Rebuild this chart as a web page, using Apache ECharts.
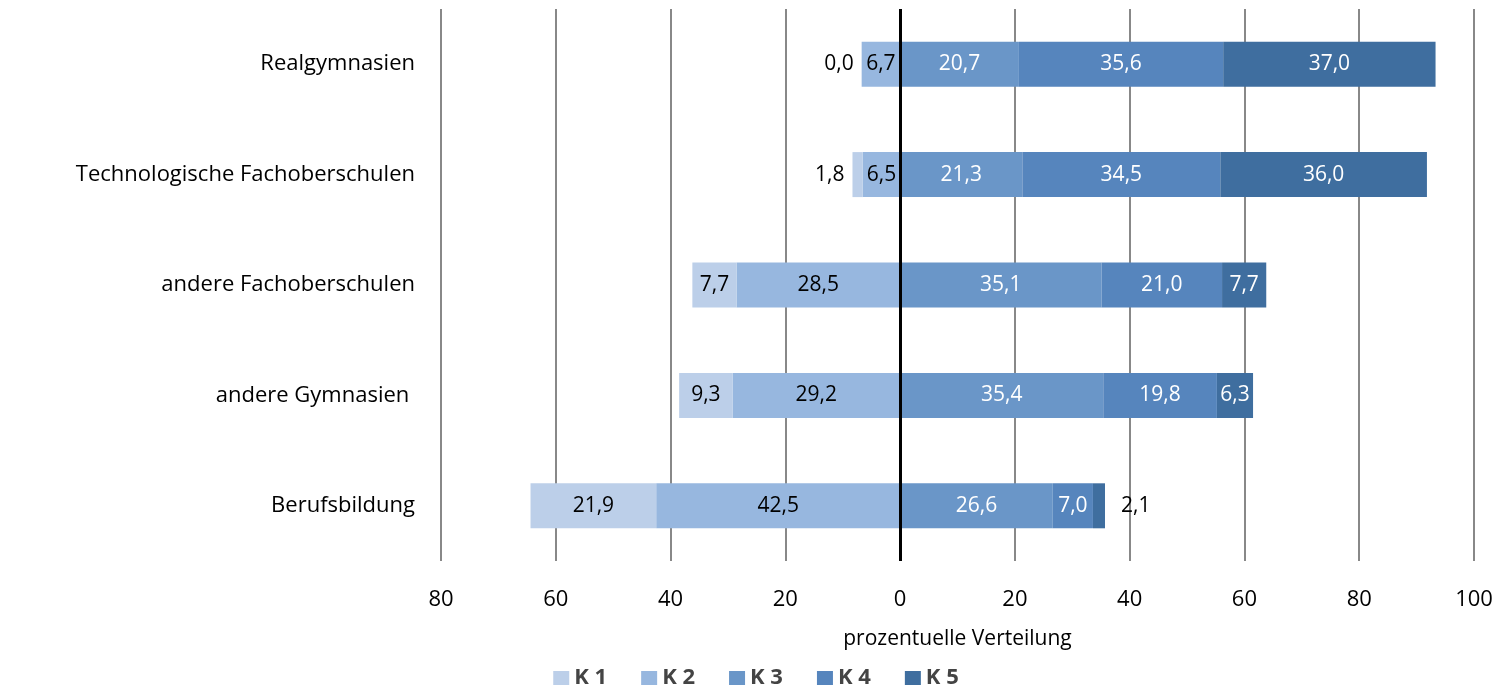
<!DOCTYPE html>
<html><head><meta charset="utf-8">
<script src="https://cdn.jsdelivr.net/npm/echarts@6/dist/echarts.min.js"></script>
<style>html,body{margin:0;background:#fff}#c{width:1512px;height:696px}</style>
</head><body><div id="c"></div>
<script>
const categories = ["Berufsbildung","andere Gymnasien ","andere Fachoberschulen","Technologische Fachoberschulen","Realgymnasien"];
const k1 = [21.9, 9.3, 7.7, 1.8, 0.0];
const k2 = [42.5, 29.2, 28.5, 6.5, 6.7];
const k3 = [26.6, 35.4, 35.1, 21.3, 20.7];
const k4 = [7.0, 19.8, 21.0, 34.5, 35.6];
const k5 = [2.1, 6.3, 7.7, 36.0, 37.0];
const colors = {K1:'#bccfe9',K2:'#97b7df',K3:'#6a96c8',K4:'#5685bd',K5:'#3f6e9f'};
const fmt = v => Math.abs(v).toFixed(1).replace('.', ',');
const font = '"Open Sans", "Noto Sans", sans-serif';
function mk(name, vals, neg, textColor, outside) {
  return {
    name, type:'bar', stack:'s', barWidth:45, itemStyle:{color:colors[name]},
    data: vals.map((v,i)=>{
      const d = {value: neg ? -v : v};
      if (outside[i]) d.label = {position: outside[i], color:'#000', distance:outside[i]==='right'?16:8};
      return d;
    }),
    label:{show:true, position:'inside', color:textColor, fontSize:21, fontFamily:font,
      formatter:p=>fmt(p.value)},
    emphasis:{disabled:true}
  };
}
const series = [
  mk('K2', k2, true, '#000', {}),
  mk('K1', k1, true, '#000', {3:'left',4:'left'}),
  mk('K3', k3, false, '#fff', {}),
  mk('K4', k4, false, '#fff', {}),
  mk('K5', k5, false, '#fff', {0:'right'})
];
series[2].markLine = {symbol:'none', silent:true, label:{show:false},
  lineStyle:{color:'#000', width:3, type:'solid'}, data:[{xAxis:0}]};
const chart = echarts.init(document.getElementById('c'));
chart.setOption({
  animation:false,
  grid:{left:441, right:38, top:9, bottom:135},
  legend:{data:['K1','K2','K3','K4','K5'], bottom:2, left:'center', itemWidth:16, itemHeight:14,
    itemGap:34, icon:'rect', formatter:n=>n.replace('K','K '),
    textStyle:{fontSize:22, color:'#444', fontWeight:'bold', fontFamily:font}},
  xAxis:{type:'value', min:-80, max:100, interval:20,
    axisLabel:{fontSize:22, color:'#000', fontFamily:font, margin:28, formatter:v=>Math.abs(v)},
    axisLine:{show:false}, axisTick:{show:false},
    splitLine:{lineStyle:{color:'#888', width:2}},
    name:'prozentuelle Verteilung', nameLocation:'middle', nameGap:68,
    nameTextStyle:{fontSize:21, color:'#000', fontFamily:font}},
  yAxis:{type:'category', data:categories, axisLine:{show:false}, axisTick:{show:false},
    axisLabel:{fontSize:22, color:'#000', fontFamily:font, margin:26}},
  series
});
</script></body></html>
